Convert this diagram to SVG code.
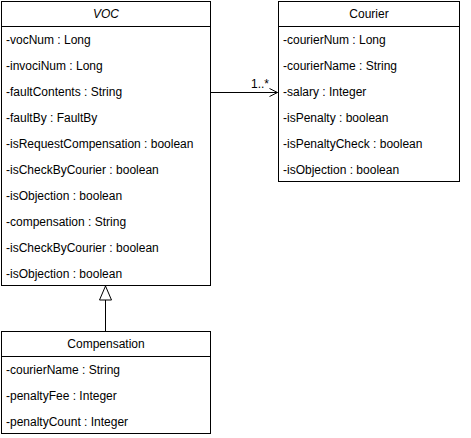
<svg xmlns="http://www.w3.org/2000/svg" width="471" height="438" viewBox="0 0 471 438">
<style>
rect,line.sep{fill:#fff;stroke:#000;stroke-width:1}
text{font-family:"Liberation Sans",Arial,sans-serif;font-size:12px;fill:#000}
.h{text-anchor:middle}
.i{font-style:italic}
.c{fill:none;stroke:#000;stroke-width:1}
</style>
<defs>
<marker id="open" markerWidth="10" markerHeight="10" refX="9" refY="5" orient="auto" markerUnits="userSpaceOnUse"><path d="M1,1 L9,5 L1,9" fill="none" stroke="#000"/></marker>
<marker id="tri" markerWidth="16" markerHeight="16" refX="15" refY="8" orient="auto" markerUnits="userSpaceOnUse"><path d="M1,2 L15,8 L1,14 Z" fill="#fff" stroke="#000"/></marker>
</defs>
<g id="connectors">
<line class="c" x1="210.5" y1="92.5" x2="277.5" y2="92.5" marker-end="url(#open)"/>
<text x="251" y="88">1..*</text>
<line class="c" x1="105.5" y1="331" x2="105.5" y2="286" marker-end="url(#tri)"/>
</g>
<g id="VOC">
<rect x="1.5" y="1.5" width="209" height="284"/>
<line class="sep" x1="1.5" y1="26.5" x2="210.5" y2="26.5"/>
<text class="h i" x="106" y="18">VOC</text>
<text x="6" y="44">-vocNum : Long</text>
<text x="6" y="70">-invociNum : Long</text>
<text x="6" y="96">-faultContents : String</text>
<text x="6" y="122">-faultBy : FaultBy</text>
<text x="6" y="148">-isRequestCompensation : boolean</text>
<text x="6" y="174">-isCheckByCourier : boolean</text>
<text x="6" y="200">-isObjection : boolean</text>
<text x="6" y="226">-compensation : String</text>
<text x="6" y="252">-isCheckByCourier : boolean</text>
<text x="6" y="278">-isObjection : boolean</text>
</g>
<g id="Courier">
<rect x="278.5" y="1.5" width="181" height="180"/>
<line class="sep" x1="278.5" y1="26.5" x2="459.5" y2="26.5"/>
<text class="h" x="369" y="18">Courier</text>
<text x="283" y="44">-courierNum : Long</text>
<text x="283" y="70">-courierName : String</text>
<text x="283" y="96">-salary : Integer</text>
<text x="283" y="122">-isPenalty : boolean</text>
<text x="283" y="148">-isPenaltyCheck : boolean</text>
<text x="283" y="174">-isObjection : boolean</text>
</g>
<g id="Compensation">
<rect x="1.5" y="331.5" width="209" height="102"/>
<line class="sep" x1="1.5" y1="356.5" x2="210.5" y2="356.5"/>
<text class="h" x="106" y="348">Compensation</text>
<text x="6" y="374">-courierName : String</text>
<text x="6" y="400">-penaltyFee : Integer</text>
<text x="6" y="426">-penaltyCount : Integer</text>
</g>
</svg>
